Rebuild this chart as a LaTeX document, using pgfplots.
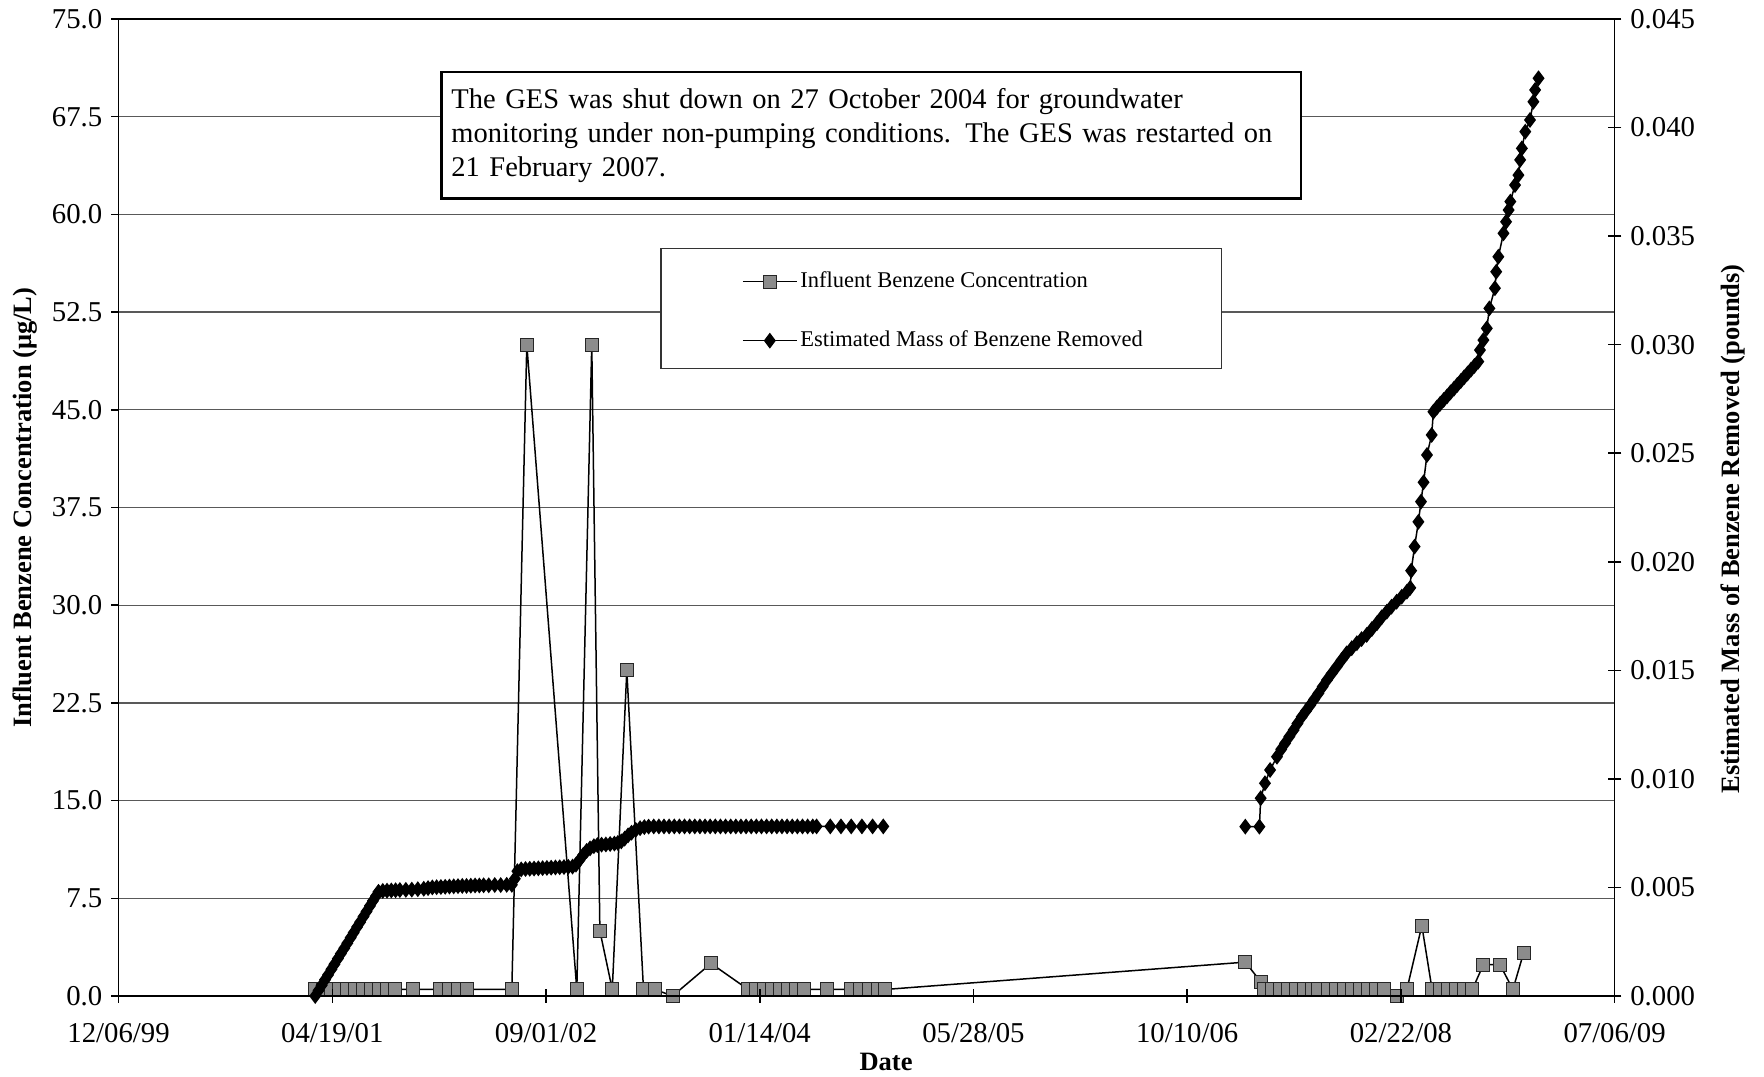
\documentclass[border=0pt]{standalone}
\usepackage{fontspec}
\setmainfont{Liberation Serif}
\usepackage{pgfplots}
\pgfplotsset{compat=1.18}

% chart frame: 1764 x 1076 px at 0.4pt per px
\pgfplotsset{
  chartbase/.style={
    scale only axis, width=598.4pt, height=390.8pt,
    at={(47.44pt,32pt)}, anchor=south west,
    xmin=36500, xmax=40000,
    clip=false,
    scaled x ticks=false,
    /pgf/number format/assume math mode=true,
    tick label style={font=\fontsize{11.5}{13}\selectfont},
    label style={font=\bfseries\fontsize{10.6}{12}\selectfont},
    axis line style={black, line width=0.7pt},
    tick style={black, line width=0.6pt},
  },
  influent/.style={black, line width=0.6pt, mark=square*, mark size=2.6pt,
    mark options={fill=black!45, draw=black!85, line width=0.4pt}},
  mass/.style={black, line width=0.6pt, mark=diamond*, mark size=2.7pt,
    mark options={fill=black, draw=black}},
}

\pgfplotstableread{
x y
36960 0.5
36979 0.5
36997 0.5
37016 0.5
37035 0.5
37054 0.5
37072 0.5
37091 0.5
37110 0.5
37128 0.5
37147 0.5
37188 0.5
37252 0.5
37273 0.5
37294 0.5
37315 0.5
37420 0.5
37455 50
37572 0.5
37607 50
37626 5
37655 0.5
37689 25
37728 0.5
37755 0.5
37796 0
37886 2.5
37973 0.5
37991 0.5
38010 0.5
38029 0.5
38048 0.5
38066 0.5
38085 0.5
38104 0.5
38157 0.5
38214 0.5
38235 0.5
38256 0.5
38277 0.5
38293 0.5
39136 2.6
39172 1.1
39180 0.5
39199 0.5
39217 0.5
39236 0.5
39255 0.5
39274 0.5
39292 0.5
39306 0.5
39330 0.5
39349 0.5
39367 0.5
39386 0.5
39405 0.5
39424 0.5
39442 0.5
39461 0.5
39490 0
39514 0.5
39549 5.4
39573 0.5
39592 0.5
39611 0.5
39629 0.5
39648 0.5
39667 0.5
39693 2.4
39732 2.4
39762 0.5
39787 3.3
}\influenttable

\pgfplotstableread{
x y
36960 0.00000
36968 0.00026
36975 0.00049
36983 0.00075
36990 0.00097
36998 0.00123
37005 0.00146
37013 0.00172
37020 0.00195
37028 0.00220
37035 0.00243
37043 0.00269
37050 0.00292
37058 0.00318
37065 0.00340
37073 0.00366
37080 0.00389
37088 0.00415
37095 0.00438
37102 0.00460
37108 0.00480
37118 0.00484
37128 0.00485
37138 0.00486
37148 0.00487
37158 0.00488
37172 0.00489
37186 0.00490
37200 0.00492
37214 0.00494
37224 0.00497
37234 0.00500
37244 0.00501
37254 0.00502
37264 0.00503
37274 0.00504
37284 0.00505
37294 0.00506
37304 0.00507
37314 0.00507
37324 0.00508
37334 0.00509
37344 0.00509
37354 0.00510
37366 0.00510
37380 0.00511
37394 0.00511
37408 0.00512
37420 0.00512
37427 0.00540
37433 0.00575
37442 0.00583
37452 0.00585
37462 0.00586
37472 0.00587
37482 0.00588
37492 0.00589
37502 0.00590
37512 0.00591
37522 0.00592
37532 0.00593
37542 0.00594
37552 0.00595
37562 0.00596
37570 0.00605
37578 0.00625
37587 0.00650
37595 0.00668
37603 0.00680
37612 0.00690
37620 0.00695
37630 0.00697
37640 0.00698
37650 0.00700
37660 0.00702
37668 0.00705
37676 0.00712
37684 0.00725
37692 0.00740
37700 0.00752
37710 0.00765
37720 0.00773
37730 0.00778
37740 0.00780
37752 0.00781
37764 0.00781
37776 0.00781
37788 0.00781
37800 0.00781
37812 0.00781
37824 0.00781
37836 0.00781
37848 0.00781
37860 0.00781
37872 0.00781
37884 0.00781
37896 0.00781
37908 0.00781
37920 0.00781
37932 0.00781
37944 0.00781
37956 0.00781
37968 0.00781
37980 0.00781
37992 0.00781
38004 0.00781
38016 0.00781
38028 0.00781
38040 0.00781
38052 0.00781
38064 0.00781
38076 0.00781
38088 0.00781
38100 0.00781
38112 0.00781
38124 0.00781
38133 0.00781
38165 0.00781
38190 0.00781
38214 0.00781
38239 0.00781
38264 0.00781
38289 0.00781
38700 nan
39136 0.00780
39169 0.00780
39172 0.00911
39182 0.00980
39194 0.01041
39210 0.01102
39220 0.01136
39229 0.01164
39239 0.01195
39249 0.01225
39258 0.01255
39268 0.01286
39278 0.01313
39288 0.01340
39297 0.01366
39307 0.01394
39317 0.01425
39327 0.01455
39338 0.01485
39350 0.01517
39361 0.01547
39373 0.01578
39385 0.01602
39397 0.01625
39408 0.01644
39420 0.01663
39432 0.01690
39444 0.01717
39455 0.01744
39467 0.01770
39478 0.01793
39490 0.01816
39502 0.01839
39514 0.01862
39522 0.01880
39524 0.01959
39532 0.02070
39541 0.02184
39547 0.02277
39553 0.02366
39561 0.02492
39572 0.02584
39576 0.02691
39584 0.02710
39592 0.02728
39600 0.02745
39608 0.02762
39616 0.02780
39624 0.02797
39632 0.02815
39640 0.02832
39648 0.02850
39656 0.02867
39664 0.02885
39672 0.02902
39681 0.02922
39685 0.02975
39693 0.03021
39701 0.03075
39707 0.03167
39720 0.03260
39723 0.03336
39728 0.03405
39740 0.03513
39746 0.03566
39752 0.03620
39756 0.03659
39767 0.03735
39775 0.03781
39779 0.03851
39783 0.03904
39791 0.03981
39802 0.04035
39810 0.04119
39814 0.04173
39822 0.04227
}\masstable

\begin{document}
\begin{tikzpicture}
\useasboundingbox (0,0) rectangle (705.6pt,430.4pt);

% left axis: influent concentration, grid and frame
\begin{axis}[chartbase,
  ymin=0, ymax=75,
  ytick={0,7.5,15,22.5,30,37.5,45,52.5,60,67.5,75},
  yticklabel style={/pgf/number format/.cd, fixed, fixed zerofill, precision=1},
  ytick pos=left, tick align=outside, major tick length=3pt,
  xtick=\empty,
  ymajorgrids, major grid style={black!65, line width=0.5pt},
  ylabel={Influent Benzene Concentration (μg/L)},
  ylabel style={at={(axis description cs:-0.0626,0.5)}, anchor=center},
]
\addplot[influent] table[x=x, y=y] {\influenttable};

\node[draw=black, line width=1pt, fill=white, anchor=north west,
  text width=335.8pt, inner xsep=4pt, inner ysep=3pt, minimum height=50.5pt,
  align=left, font=\fontsize{11.4}{13.6}\selectfont]
  at (rel axis cs:0.215,0.947)
  {The GES was shut down on 27 October 2004 for groundwater\\
   monitoring under non-pumping conditions. The GES was restarted on\\
   21 February 2007.};

\draw[black!80, line width=0.5pt, fill=white]
  (rel axis cs:0.3625,0.7648) rectangle (rel axis cs:0.7371,0.6425);
\end{axis}

% right axis: estimated mass removed, date axis
\begin{axis}[chartbase,
  axis y line*=right, axis x line*=bottom,
  ymin=0, ymax=0.045,
  ytick={0,0.005,0.01,0.015,0.02,0.025,0.03,0.035,0.04,0.045},
  scaled y ticks=false,
  yticklabel style={/pgf/number format/.cd, fixed, fixed zerofill, precision=3},
  tick align=center, major tick length=5.5pt,
  xtick={36500,37000,37500,38000,38500,39000,39500,40000},
  xticklabels={12/06/99,04/19/01,09/01/02,01/14/04,05/28/05,10/10/06,02/22/08,07/06/09},
  xticklabel style={yshift=-4.5pt},
  xlabel={Date},
  xlabel style={at={(axis description cs:0.513,-0.0676)}, anchor=center},
  ylabel={Estimated Mass of Benzene Removed (pounds)},
  ylabel style={at={(axis description cs:1.0788,0.478)}, anchor=center, rotate=0},
  unbounded coords=jump,
  legend image code/.code={\draw[mark repeat=2,mark phase=2,#1]
    plot coordinates {(0pt,0pt) (10.75pt,0pt) (21.5pt,0pt)};},
  legend style={draw=none, fill=none, at={(axis description cs:0.4115,0.7010)},
    anchor=west, font=\fontsize{9}{10.8}\selectfont, row sep=13.4pt,
    nodes={inner sep=1.2pt}},
  legend cell align=left,
]
\addlegendimage{influent}
\addlegendentry{Influent Benzene Concentration}
\addplot[mass] table[x=x, y=y] {\masstable};
\addlegendentry{Estimated Mass of Benzene Removed}
\end{axis}
\end{tikzpicture}
\end{document}
